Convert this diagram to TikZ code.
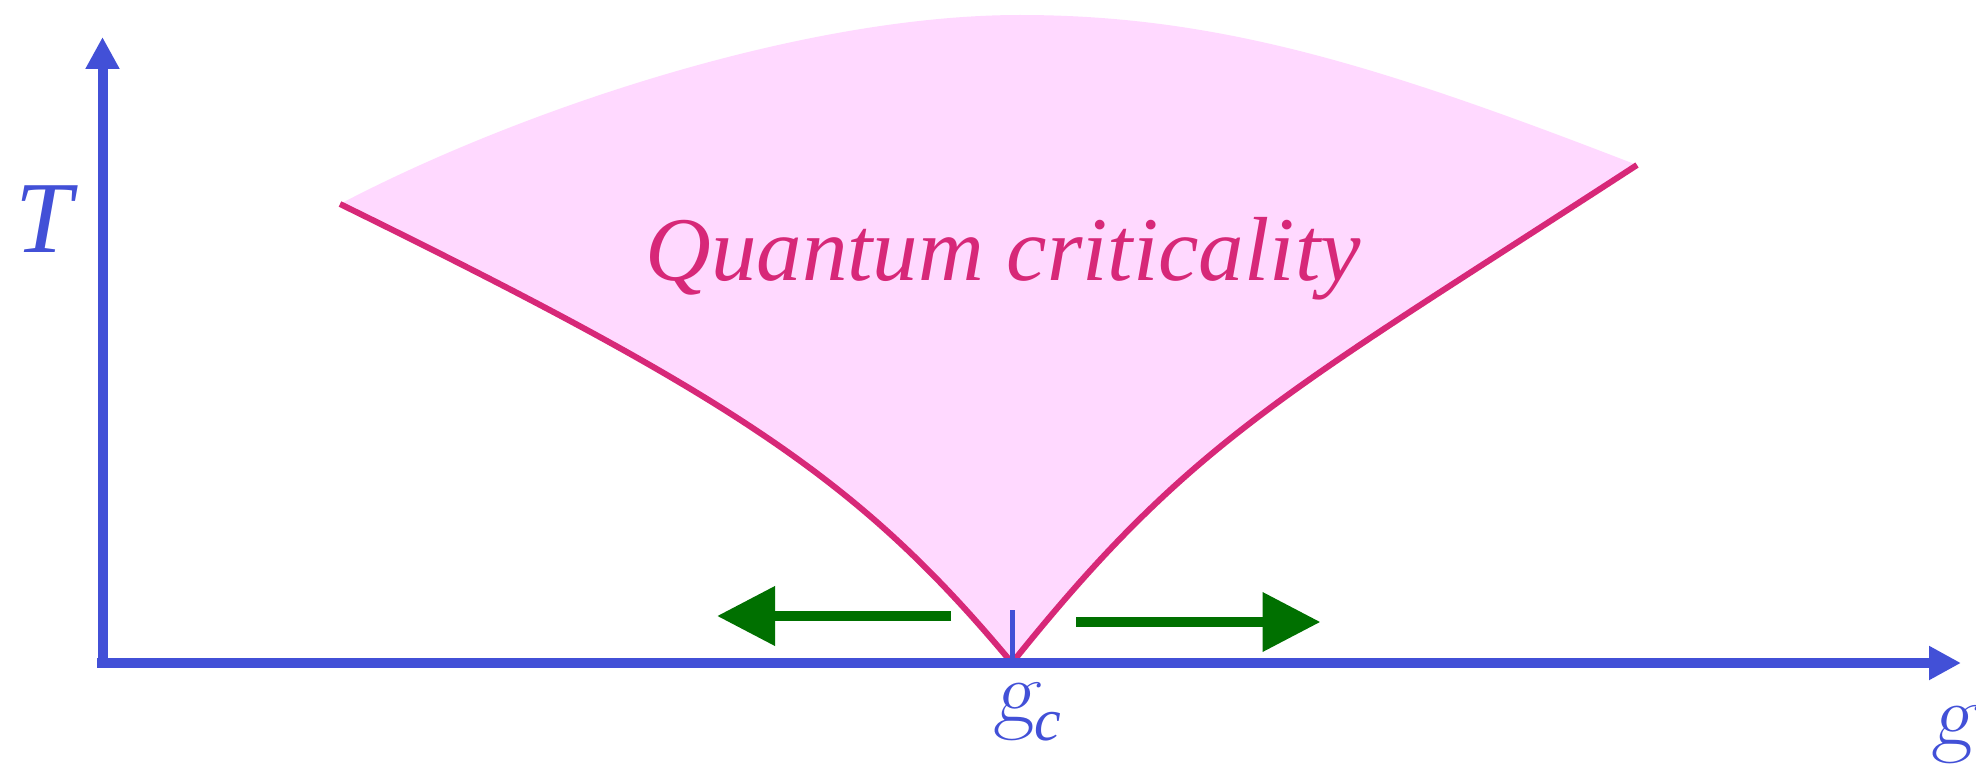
\documentclass[tikz,border=0pt]{standalone}
\usepackage{fontspec}
\newfontfamily\qfont{Liberation Serif}
\usetikzlibrary{arrows.meta}
\definecolor{axisblue}{RGB}{66,80,215}
\definecolor{critfill}{RGB}{255,217,255}
\definecolor{critline}{RGB}{215,40,120}
\definecolor{flowgreen}{RGB}{0,112,0}
\begin{document}
\begin{tikzpicture}[x=0.5pt,y=-0.5pt,
  axisline/.style={draw=axisblue, line width=5pt, -{Triangle[length=16pt,width=16pt]}},
  critcurve/.style={draw=critline, line width=3pt},
  flowarrow/.style={draw=flowgreen, line width=5.3pt, -{Triangle[length=29pt,width=28.5pt]}},
  mathlabel/.style={text=axisblue, inner sep=0pt, anchor=base west, font=\rmfamily\slshape\fontsize{45pt}{48pt}\selectfont},
]
\useasboundingbox (0,0) rectangle (1976,765);
% key points
\coordinate (lend) at (340,204);
\coordinate (rend) at (1637,165);
\coordinate (peak) at (1020,15);
\coordinate (gc) at (1012,663);
\coordinate (xstart) at (97,663);
\coordinate (xend) at (1961,663);
\coordinate (ystart) at (102.5,663);
\coordinate (yend) at (102.5,37);
\coordinate (ticktop) at (1012,610);
\coordinate (la1) at (951,616);
\coordinate (la2) at (717,616);
\coordinate (ra1) at (1076,622);
\coordinate (ra2) at (1320.5,622);
% critical region
\fill[critfill] (lend) .. controls (515,112) and (800,15) .. (peak)
  .. controls (1220,15) and (1384,67) .. (rend)
  .. controls (1287,392.5) and (1192,438) .. (gc)
  .. controls (862,483) and (740,400) .. (lend) -- cycle;
\draw[critcurve] (lend) .. controls (740,400) and (862,483) .. (gc);
\draw[critcurve] (gc) .. controls (1192,438) and (1287,392.5) .. (rend);
% axes
\draw[axisline] (ystart) -- (yend);
\draw[axisline] (xstart) -- (xend);
\draw[draw=axisblue, line width=2.5pt] (gc) -- (ticktop);
% flow arrows
\draw[flowarrow] (la1) -- (la2);
\draw[flowarrow] (ra1) -- (ra2);
% labels
\node[mathlabel, font=\qfont\itshape\fontsize{51pt}{54pt}\selectfont] (Tlab) at (15,252) {T};
\node[mathlabel] (gclab) at (994,722) {g\kern-0.5pt\raisebox{-9pt}{\qfont\itshape\fontsize{30pt}{32pt}\selectfont c}};
\node[mathlabel] (glab) at (1932,745) {g};
\node[anchor=base west, inner sep=0pt, text=critline, font=\qfont\itshape\fontsize{45.5pt}{50pt}\selectfont] (qc) at (645,280) {Quantum criticality};
\end{tikzpicture}
\end{document}
